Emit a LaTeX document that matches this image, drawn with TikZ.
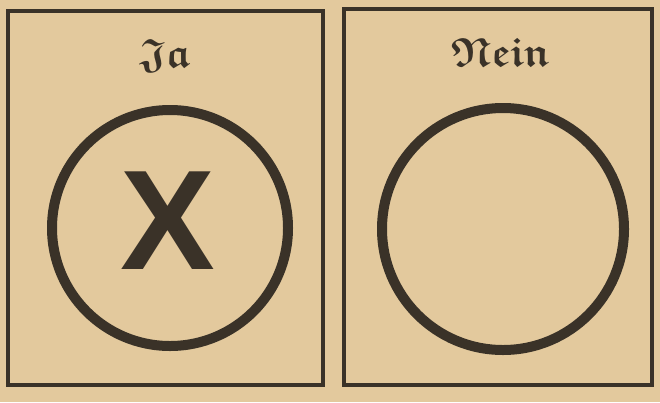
\documentclass[tikz,border=0pt]{standalone}
\usepackage{amssymb}
\usepackage{fontspec}
\newfontfamily\xsans{Liberation Sans}
\definecolor{paper}{RGB}{227,201,157}
\definecolor{ink}{RGB}{58,50,40}
\newcommand{\frakword}[1]{{\boldmath$\mathfrak{#1}$}}
\begin{document}
\begin{tikzpicture}[x=1pt,y=-1pt,
  box/.style={draw=ink,line width=3.5pt},
  ring/.style={draw=ink,line width=10pt},
  lbl/.style={text=ink,inner sep=0pt,font=\fontsize{41}{41}\selectfont},
  cross/.style={text=ink,inner sep=0pt,font=\xsans\bfseries\fontsize{142}{142}\selectfont}]
\fill[paper] (0,0) rectangle (660,402);
\useasboundingbox (0,0) rectangle (660,402);
\draw[box] (8,11) rectangle (323,385);
\draw[box] (344,9) rectangle (652,385);
\node[lbl] (ja) at (165,56) {\frakword{Ja}};
\node[lbl] (nein) at (501,52) {\frakword{Nein}};
\draw[ring] (170,228) circle (118);
\draw[ring] (503,229) circle (121);
\node[cross] (x) at (168,221) {X};
\end{tikzpicture}
\end{document}
